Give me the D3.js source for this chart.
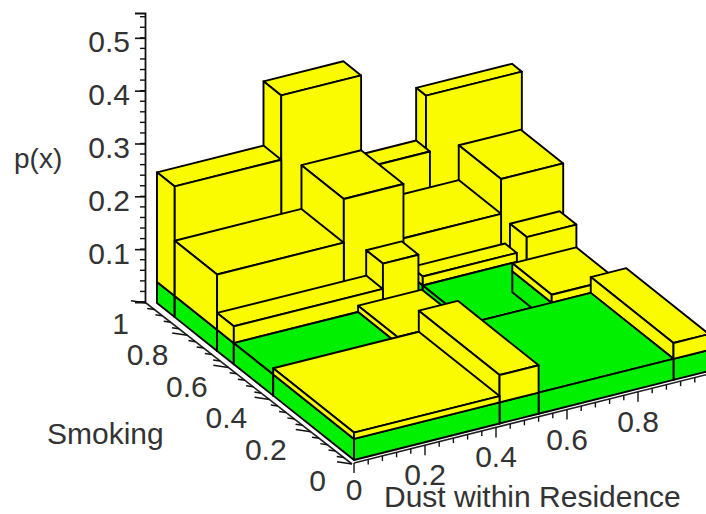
<!DOCTYPE html>
<html>
<head>
<meta charset="utf-8">
<script src="https://cdn.jsdelivr.net/npm/d3@7"></script>
<style>
  body { margin: 0; background: #fff; }
  svg { display: block; }
  text { font-family: "Liberation Sans", Arial, sans-serif; font-size: 30px; fill: #333; }
</style>
</head>
<body>
<svg id="chart" width="706" height="514"></svg>
<script>
// one entry per block, listed back to front so they can be painted in order
const dustFrom  = [0.73, 0.52, 0.3, 0, 0.8, 0.52, 0.357, 0, 0.825, 0.56, 0.42, 0, 0.56, 0.79, 0.35, 0, 0.9, 0.52, 0.41, 0];
const dustTo    = [1, 0.73, 0.525, 0.3, 0.975, 0.8, 0.525, 0.357, 0.965, 0.825, 0.52, 0.42, 0.825, 0.97, 0.53, 0.35, 1, 0.9, 0.52, 0.41];
const smokeFrom = [0.95, 0.93, 0.91, 0.91, 0.695, 0.695, 0.695, 0.695, 0.61, 0.66, 0.61, 0.61, 0.42, 0.42, 0.41, 0.41, 0, 0, 0, 0];
const smokeTo   = [1, 1, 1, 1, 0.91, 0.91, 0.91, 0.91, 0.695, 0.72, 0.695, 0.695, 0.66, 0.62, 0.61, 0.61, 0.42, 0.42, 0.41, 0.41];
const px        = [0.285, 0.185, 0.37, 0.248, 0.191, 0.125, 0.228, 0.145, 0.102, 0.057, 0.12, 0.072, 0.04, 0.055, 0.052, 0.04, 0.07, 0.04, 0.092, 0.052];
const greenTop = 0.04;

const dustTicks = [0, 0.2, 0.4, 0.6, 0.8];
const smokeTicks = [0, 0.2, 0.4, 0.6, 0.8, 1];
const pTicks = [0.1, 0.2, 0.3, 0.4, 0.5];

const svg = d3.select('#chart');

// oblique projection: each data axis moves the point along its own screen direction
const dustX = d3.scaleLinear().domain([0, 1]).range([0, 355]);
const dustY = d3.scaleLinear().domain([0, 1]).range([0, -89]);
const smokeX = d3.scaleLinear().domain([0, 1]).range([0, -197]);
const smokeY = d3.scaleLinear().domain([0, 1]).range([0, -157]);
const pY = d3.scaleLinear().domain([0, 1]).range([0, -527]);
const originX = 354, originY = 460;

function project(x, y, z) {
  return [originX + dustX(x) + smokeX(y), originY + dustY(x) + smokeY(y) + pY(z)];
}

const line = d3.line();

function face(points, color) {
  svg.append('path')
    .attr('d', line(points) + 'Z')
    .attr('fill', color)
    .attr('stroke', '#000')
    .attr('stroke-width', 1.9)
    .attr('stroke-linejoin', 'round');
}

function drawLayer(x0, x1, y0, y1, z0, z1, color) {
  // top
  face([project(x0, y0, z1), project(x1, y0, z1), project(x1, y1, z1), project(x0, y1, z1)], color);
  // left side
  face([project(x0, y0, z0), project(x0, y1, z0), project(x0, y1, z1), project(x0, y0, z1)], color);
  // front side
  face([project(x0, y0, z0), project(x1, y0, z0), project(x1, y0, z1), project(x0, y0, z1)], color);
}

px.forEach((h, i) => {
  const green = Math.min(h, greenTop);
  drawLayer(dustFrom[i], dustTo[i], smokeFrom[i], smokeTo[i], 0, green, '#00f000');
  if (h > greenTop) {
    drawLayer(dustFrom[i], dustTo[i], smokeFrom[i], smokeTo[i], green, h, '#fbfb00');
  }
});

// p(x) axis
const zAxisScale = d3.scaleLinear().domain([0, 0.547]).range([302, 13]);
const zAxis = svg.append('g')
  .attr('transform', 'translate(145,0)')
  .call(d3.axisLeft(zAxisScale).tickValues(pTicks).tickSize(10).tickPadding(5).tickFormat(d3.format('.1f')));
zAxis.selectAll('line').attr('stroke', '#111').attr('stroke-width', 1.6);
zAxis.select('.domain').attr('stroke', '#111').attr('stroke-width', 1.8);
zAxis.selectAll('text').attr('dy', '14px').style('font-size', '30px').style('font-family', '"Liberation Sans", Arial, sans-serif');

d3.range(0, 0.547, 0.02).forEach(v => {
  svg.append('line')
    .attr('x1', 140).attr('x2', 145)
    .attr('y1', zAxisScale(v)).attr('y2', zAxisScale(v))
    .attr('stroke', '#111').attr('stroke-width', 1.4);
});
svg.append('line')
  .attr('x1', 135).attr('x2', 145)
  .attr('y1', zAxisScale(0)).attr('y2', zAxisScale(0))
  .attr('stroke', '#111').attr('stroke-width', 1.6);

// Smoking axis runs a little outside the blocks
const smokeAxisX = d3.scaleLinear().domain([0, 1]).range([352, 146]);
const smokeAxisY = d3.scaleLinear().domain([0, 1]).range([464, 303]);
svg.append('line')
  .attr('x1', smokeAxisX(0)).attr('y1', smokeAxisY(0))
  .attr('x2', smokeAxisX(1)).attr('y2', smokeAxisY(1))
  .attr('stroke', '#222').attr('stroke-width', 1.6);

d3.range(0, 1.001, 0.04).forEach(v => {
  const major = Math.abs(v * 5 - Math.round(v * 5)) < 0.001;
  const len = major ? 15 : 7;
  svg.append('line')
    .attr('x1', smokeAxisX(v) - len).attr('y1', smokeAxisY(v) - len * 0.15)
    .attr('x2', smokeAxisX(v)).attr('y2', smokeAxisY(v))
    .attr('stroke', '#111').attr('stroke-width', 1.5);
});

smokeTicks.forEach(v => {
  const [tx, ty] = project(0, v, 0);
  svg.append('text')
    .attr('x', tx - 28)
    .attr('y', ty + 31)
    .attr('text-anchor', 'end')
    .text(v);
});

// Dust axis
const dustAxisX = d3.scaleLinear().domain([0, 1]).range([354, 709]);
const dustAxisY = d3.scaleLinear().domain([0, 1]).range([463, 374]);
svg.append('line')
  .attr('x1', dustAxisX(0)).attr('y1', dustAxisY(0))
  .attr('x2', dustAxisX(1)).attr('y2', dustAxisY(1))
  .attr('stroke', '#222').attr('stroke-width', 1.6);

d3.range(0, 1.001, 0.04).forEach(v => {
  const major = Math.abs(v * 5 - Math.round(v * 5)) < 0.001;
  svg.append('line')
    .attr('x1', dustAxisX(v)).attr('y1', dustAxisY(v))
    .attr('x2', dustAxisX(v)).attr('y2', dustAxisY(v) + (major ? 10 : 5))
    .attr('stroke', '#111').attr('stroke-width', 1.4);
});

dustTicks.forEach(v => {
  const [tx, ty] = project(v, 0, 0);
  svg.append('text')
    .attr('x', tx)
    .attr('y', v === 0 ? ty + 40 : ty + 43)
    .attr('text-anchor', 'middle')
    .text(v);
});

svg.append('text').attr('x', 14).attr('y', 168).text('p(x)').style('font-size', '28px');
svg.append('text').attr('x', 47).attr('y', 444).text('Smoking');
svg.append('text').attr('x', 384).attr('y', 507).text('Dust within Residence');
</script>
</body>
</html>
